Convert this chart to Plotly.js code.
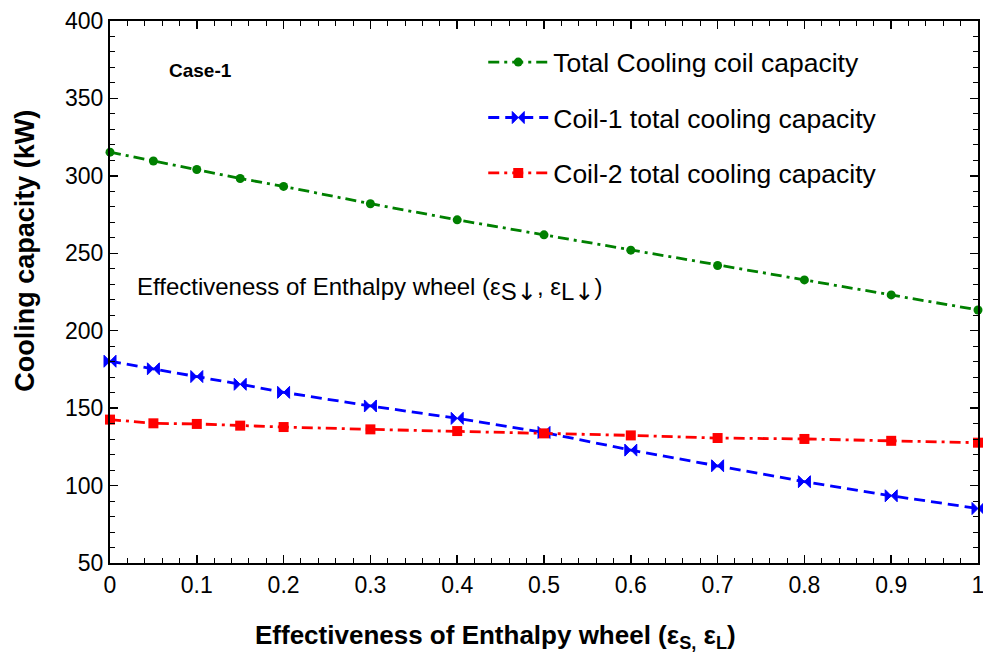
<!DOCTYPE html>
<html>
<head>
<meta charset="utf-8">
<script src="https://cdn.plot.ly/plotly-3.0.1.min.js"></script>
<style>html,body{margin:0;padding:0;background:#fff;}#chart{width:983px;height:655px;}</style>
</head>
<body>
<div id="chart"></div>
<script>
const effectiveness = [0, 0.05, 0.1, 0.15, 0.2, 0.3, 0.4, 0.5, 0.6, 0.7, 0.8, 0.9, 1.0];
const totalCoil = [315.3, 309.6, 304.1, 298.3, 293.2, 282.0, 271.6, 261.9, 252.0, 242.1, 232.8, 223.1, 213.4];
const coil1 = [180.3, 175.4, 170.4, 165.4, 160.2, 151.4, 143.4, 134.3, 122.9, 112.8, 102.5, 93.4, 85.2];
const coil2 = [142.6, 140.2, 139.8, 138.7, 137.8, 136.3, 135.2, 133.7, 132.4, 130.7, 130.1, 128.9, 127.7];
const seriesNames = ['Total Cooling coil capacity', 'Coil-1 total cooling capacity', 'Coil-2 total cooling capacity'];
const xTickVals = [0, 0.1, 0.2, 0.3, 0.4, 0.5, 0.6, 0.7, 0.8, 0.9, 1];
const xTickText = ['0', '0.1', '0.2', '0.3', '0.4', '0.5', '0.6', '0.7', '0.8', '0.9', '1'];
const yTickVals = [50, 100, 150, 200, 250, 300, 350, 400];

const font = 'Liberation Sans, Arial, sans-serif';
const traces = [
  {x: effectiveness, y: totalCoil, name: seriesNames[0], mode: 'lines+markers', legendgroup: 'a',
   line: {color: '#008000', width: 2.8, dash: '11px,5px,3px,5px'}, marker: {symbol: 'circle', size: 9, color: '#008000'}, cliponaxis: false},
  {x: effectiveness, y: coil1, name: seriesNames[1], mode: 'lines+markers', legendgroup: 'b',
   line: {color: '#0000ff', width: 2.8, dash: '11px,6px'}, marker: {symbol: 'bowtie', size: 12, color: '#0000ff', line: {color: '#0000ff', width: 1}}, cliponaxis: false},
  {x: effectiveness, y: coil2, name: seriesNames[2], mode: 'lines+markers', legendgroup: 'c',
   line: {color: '#ff0000', width: 2.8, dash: '11px,5px,3px,5px'}, marker: {symbol: 'square', size: 10, color: '#ff0000'}, cliponaxis: false}
];

const axisCommon = {
  showline: true, linecolor: '#000', linewidth: 2, mirror: 'allticks',
  ticks: 'inside', ticklen: 8, tickwidth: 1.5, tickcolor: '#000',
  showgrid: false, zeroline: false, ticklabeloverflow: 'allow',
  tickfont: {family: font, size: 23, color: '#000'}
};

const layout = {
  width: 983, height: 655,
  margin: {l: 110, r: 5, t: 21, b: 92},
  paper_bgcolor: '#fff', plot_bgcolor: '#fff',
  showlegend: true,
  legend: {x: 0.43, y: 0.968, xanchor: 'left', yanchor: 'top', bgcolor: 'rgba(0,0,0,0)',
           font: {family: font, size: 26.5, color: '#000'}, tracegroupgap: 18, traceorder: 'grouped', itemwidth: 60},
  xaxis: Object.assign({}, axisCommon, {
    range: [0, 1], tickmode: 'array', tickvals: xTickVals, ticktext: xTickText,
    minor: {dtick: 0.02, tick0: 0, ticks: 'inside', ticklen: 5, tickcolor: '#000', tickwidth: 1}
  }),
  yaxis: Object.assign({}, axisCommon, {
    range: [50, 400], tickmode: 'array', tickvals: yTickVals,
    minor: {dtick: 10, tick0: 0, ticks: 'inside', ticklen: 5, tickcolor: '#000', tickwidth: 1}
  }),
  annotations: [
    {xref: 'paper', yref: 'paper', x: 0.444, y: -0.136, xanchor: 'center', yanchor: 'middle', showarrow: false,
     text: '<b>Effectiveness of Enthalpy wheel (ε<sub>S,</sub> ε<sub>L</sub>)</b>', font: {family: font, size: 26, color: '#000'}},
    {xref: 'paper', yref: 'paper', x: -0.098, y: 0.576, xanchor: 'center', yanchor: 'middle', showarrow: false, textangle: -90,
     text: '<b>Cooling capacity (kW)</b>', font: {family: font, size: 27, color: '#000'}},
    {xref: 'paper', yref: 'paper', x: 0.066, y: 0.909, xanchor: 'left', yanchor: 'middle', showarrow: false,
     text: '<b>Case-1</b>', font: {family: font, size: 19, color: '#000'}},
    {xref: 'paper', yref: 'paper', x: 0.029, y: 0.505, xanchor: 'left', yanchor: 'middle', showarrow: false,
     text: 'Effectiveness of Enthalpy wheel (ε<sub><span style="font-size:24px">S<span style="font-family:DejaVu Sans">↓</span></span></sub>, ε<sub><span style="font-size:24px">L<span style="font-family:DejaVu Sans">↓</span></span></sub>)', font: {family: font, size: 24, color: '#000'}}
  ]
};

Plotly.newPlot('chart', traces, layout, {displayModeBar: false, staticPlot: true});
</script>
</body>
</html>
